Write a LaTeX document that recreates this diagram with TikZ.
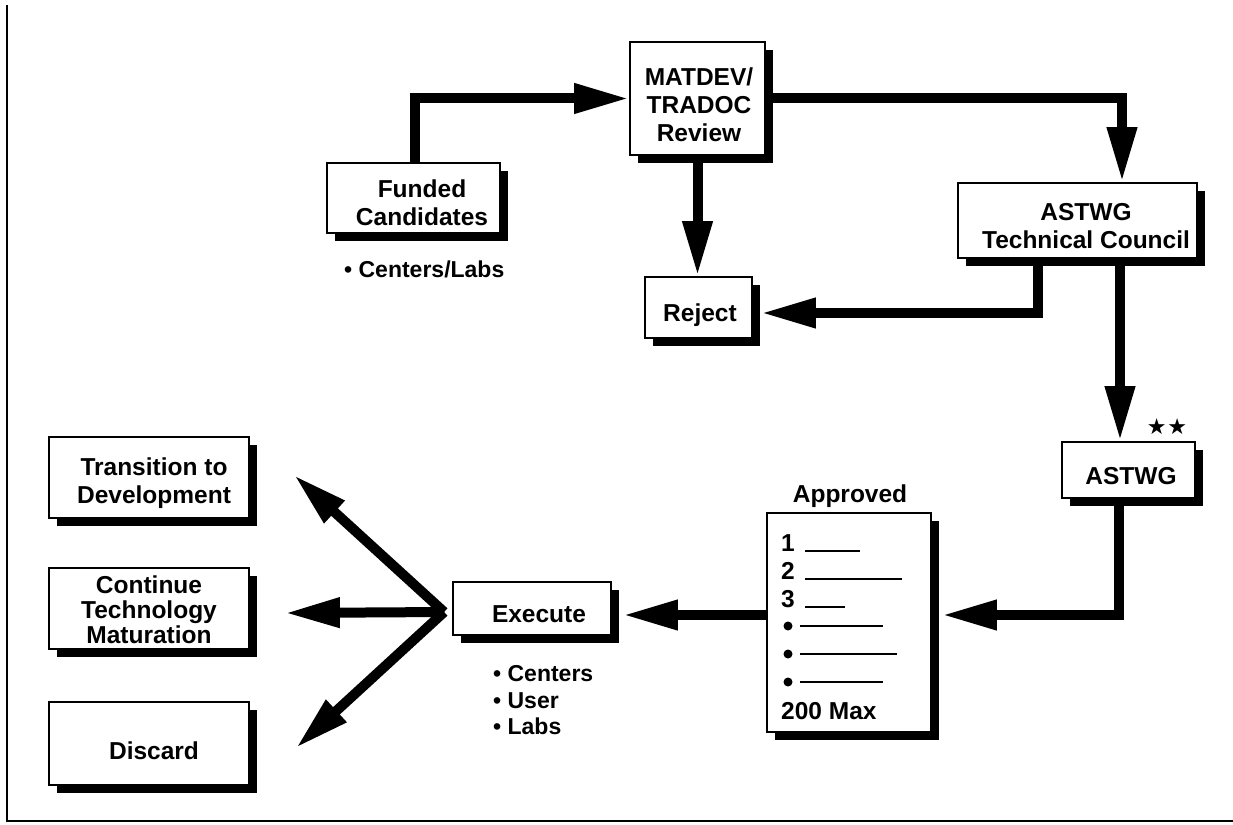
\documentclass[tikz,border=0pt]{standalone}
\usepackage{fontspec}
\setmainfont{Liberation Sans}
\newfontfamily\symfont{DejaVu Sans}
\usetikzlibrary{arrows.meta,shadows,calc}
\begin{document}
\begin{tikzpicture}[x=1pt,y=-1pt,
  flowbox/.style={draw, line width=1.8pt, fill=white, inner sep=0pt,
    drop shadow={shadow xshift=8pt, shadow yshift=-8pt, opacity=1, fill=black}},
  boxtext/.style={inner sep=0pt, align=center, font=\fontsize{24.5}{28}\selectfont\bfseries},
  note/.style={inner sep=0pt, anchor=base west, font=\fontsize{23}{26}\selectfont\bfseries},
  dot/.style={inner sep=0pt, circle, fill=black, minimum size=9pt},
  blank/.style={line width=1.6pt},
  flow/.style={line width=10pt, -{Triangle[length=55pt,width=28pt]}},
]
\useasboundingbox (0,0) rectangle (1233,824);

% page frame
\draw[line width=1.5pt] (7,5) -- (7,821) -- (1233,821);

% boxes
\node[flowbox, minimum width=173pt, minimum height=70pt]  (fund)  at (413.5,198)   {};
\node[flowbox, minimum width=135pt, minimum height=113pt] (mat)   at (697.5,98.5)  {};
\node[flowbox, minimum width=107pt, minimum height=61pt]  (rej)   at (698.5,307.5) {};
\node[flowbox, minimum width=239pt, minimum height=75pt]  (tc)    at (1077.5,220.5){};
\node[flowbox, minimum width=133pt, minimum height=56pt]  (ast)   at (1128.5,470)  {};
\node[flowbox, minimum width=164pt, minimum height=219pt] (appr)  at (849,622.5)   {};
\node[flowbox, minimum width=158pt, minimum height=53pt]  (exe)   at (532,608.5)   {};
\node[flowbox, minimum width=200pt, minimum height=81pt]  (trans) at (149,477.5)   {};
\node[flowbox, minimum width=200pt, minimum height=81pt]  (cont)  at (149,608.5)   {};
\node[flowbox, minimum width=200pt, minimum height=83pt]  (disc)  at (149,743.5)   {};

% box texts
\node[boxtext] (fund-t) at (422,202.5) {Funded\\Candidates};
\node[boxtext] (mat-t) at (699,105) {MATDEV/\\TRADOC\\Review};
\node[boxtext, anchor=base] (rej-t) at (700,321) {Reject};
\node[boxtext] (tc-t) at (1086,226) {ASTWG\\Technical Council};
\node[boxtext, anchor=base] (ast-t) at (1131,484) {ASTWG};
\node[boxtext, anchor=base] (appr-t) at (850,502) {Approved};
\node[boxtext, anchor=base] (exe-t) at (539,622) {Execute};
\node[boxtext] (trans-t) at (154,483.4) {Transition to\\Development};
\node[boxtext, font=\fontsize{24.5}{25}\selectfont\bfseries] (cont-t) at (149,610) {Continue\\Technology\\Maturation};
\node[boxtext, anchor=base] (disc-t) at (154,759) {Discard};
\node[inner sep=0pt, font=\symfont\fontsize{22}{22}\selectfont] (stars) at (1167,427) {★\hspace{1pt}★};

% bullet notes
\node[note] (fund-n) at (344,277) {• Centers/Labs};
\node[note] (exe-n1) at (493,681) {• Centers};
\node[note] (exe-n2) at (493,708) {• User};
\node[note] (exe-n3) at (493,734) {• Labs};

% list inside the approved sheet
\node[boxtext, anchor=base west] (l1) at (781,551) {1};
\node[boxtext, anchor=base west] (l2) at (781,579) {2};
\node[boxtext, anchor=base west] (l3) at (781,607) {3};
\node[dot] (l4) at (788,626) {};
\node[dot] (l5) at (788,654) {};
\node[dot] (l6) at (788,682) {};
\node[boxtext, anchor=base west] (l7) at (781,719) {200 Max};
\draw[blank] (805,551) -- (860,551);
\draw[blank] (805,579) -- (902,579);
\draw[blank] (805,607) -- (845,607);
\draw[blank] (800,626) -- (883,626);
\draw[blank] (800,654) -- (897,654);
\draw[blank] (800,682) -- (883,682);

% flow arrows
\draw[flow] ([xshift=1.5pt]fund.north) |- (mat.west);
\draw[flow] (mat.east) -| ([xshift=44.5pt]tc.north);
\draw[flow] (mat.south) -- (mat.south |- rej.north);
\draw[flow] ([xshift=-39.5pt]tc.south) |- ([xshift=8pt,yshift=-5.5pt]rej.east);
\draw[flow] ([xshift=42.5pt]tc.south) -- ([xshift=-8.5pt]ast.north);
\draw[flow] ([xshift=-9.5pt]ast.south) |- ([xshift=10pt,yshift=7.5pt]appr.east);
\draw[flow] ([yshift=7.5pt]appr.west) -- ([xshift=11pt,yshift=-6.5pt]exe.east);
\coordinate (fan) at ([xshift=-8pt,yshift=-3.5pt]exe.west);
\draw[flow] (fan) -- ([xshift=44pt,yshift=2.5pt]trans.east);
\draw[flow] (fan) -- ([xshift=35pt,yshift=-4.5pt]cont.east);
\draw[flow] (fan) -- ([xshift=46pt,yshift=-4.5pt]disc.east);
\end{tikzpicture}
\end{document}
